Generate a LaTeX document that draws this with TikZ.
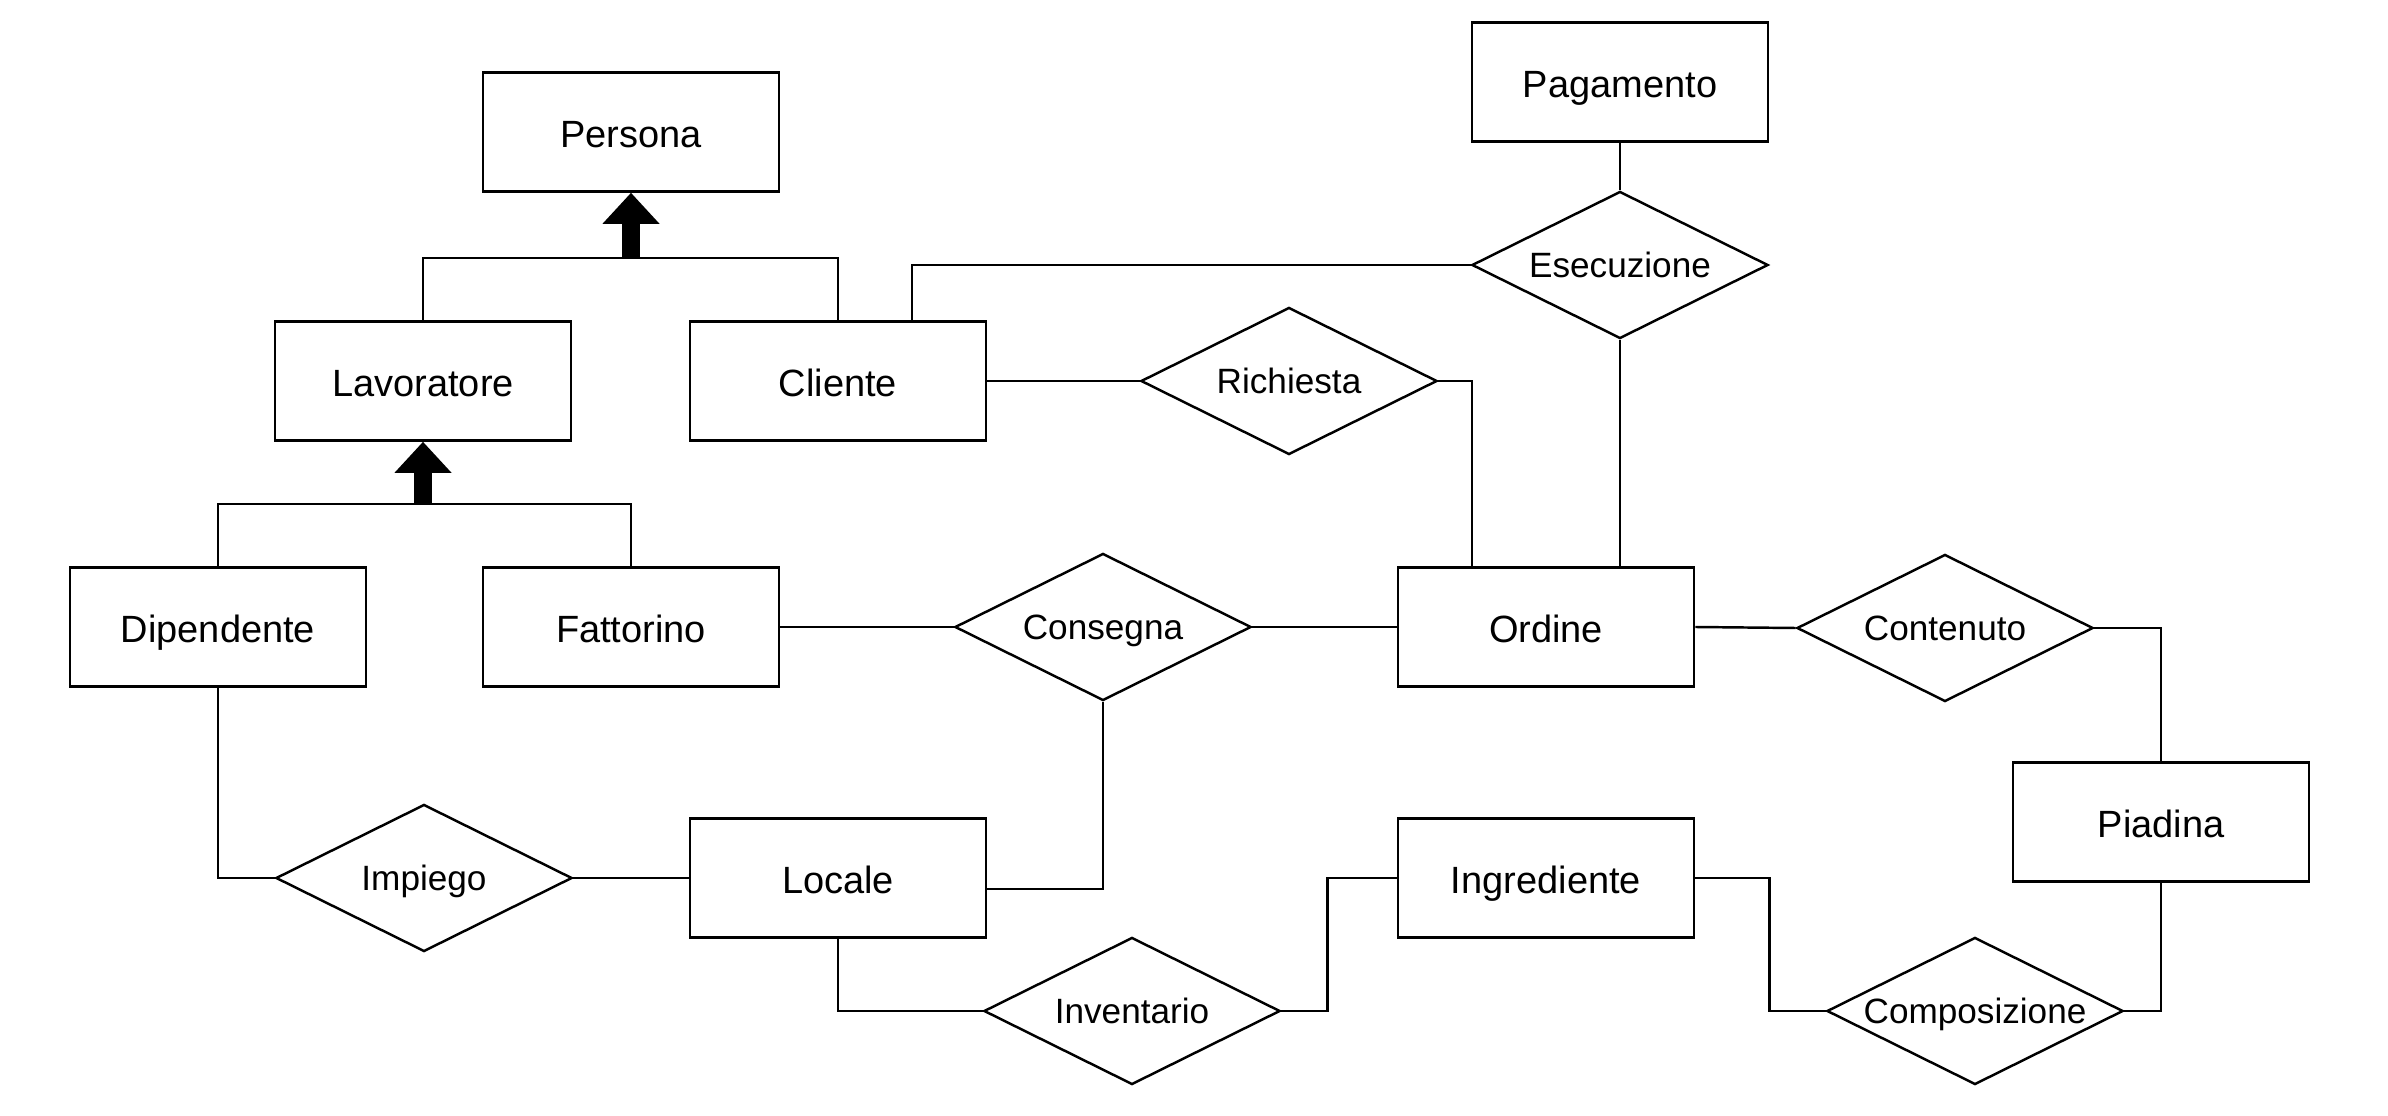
\documentclass[tikz,border=0pt]{standalone}
\usepackage{fontspec}
\setmainfont{Liberation Sans}
\usepackage{tikz}
\usetikzlibrary{arrows.meta,shapes.geometric}
\tikzset{
  entity/.style = {rectangle, draw=black, align=center, inner sep=0pt,
    minimum width=2.96cm, minimum height=1.19cm, text height=0.36cm, text depth=0.05cm,
    font=\fontsize{10.8}{13}\selectfont},
  relation/.style = {diamond, aspect=2, draw=black, align=center, inner sep=0pt,
    minimum width=2.96cm, minimum height=1.47cm, text height=0.30cm, text depth=0.05cm,
    font=\fontsize{10}{12}\selectfont},% relazione
  isa/.style = {line width=0.18cm, -{Triangle[width=0.55cm,length=0.31cm]}},
}

\begin{document}
\begin{tikzpicture}[x=0.01cm,y=-0.01cm,line width=0.7pt]
\useasboundingbox (0,0) rectangle (2388,1116);
% entita
\node [entity] (persona) at (631,132) {Persona};
\node [entity] (lavoratore) at (423,381) {Lavoratore};
\node [entity] (cliente) at (838,381) {Cliente};
\node [entity] (dipendente) at (218,627) {Dipendente};
\node [entity] (fattorino) at (631,627) {Fattorino};
\node [entity] (ordine) at (1546,627) {Ordine};
\node [entity] (pagamento) at (1620,82) {Pagamento};
\node [entity] (piadina) at (2161,822) {Piadina};
\node [entity] (locale) at (838,878) {Locale};
\node [entity] (ingrediente) at (1546,878) {Ingrediente};
% relazioni
\node [relation] (esecuzione) at (1620,265) {Esecuzione};
\node [relation] (richiesta) at (1289,381) {Richiesta};
\node [relation] (consegna) at (1103,627) {Consegna};
\node [relation] (contenuto) at (1945,628) {Contenuto};
\node [relation] (impiego) at (424,878) {Impiego};
\node [relation] (inventario) at (1132,1011) {Inventario};
\node [relation] (composizione) at (1975,1011) {Composizione};
% generalizzazioni
\coordinate (isa1) at (631,258);
\coordinate (isa2) at (423,504);
\draw (lavoratore.north) |- (isa1) -| (cliente.north);
\draw [isa] (isa1) -- (persona.south);
\draw (dipendente.north) |- (isa2) -| (fattorino.north);
\draw [isa] (isa2) -- (lavoratore.south);
% collegamenti
\draw ([xshift=0.74cm]cliente.north) |- (esecuzione.west);
\draw (pagamento.south) -- (esecuzione.north);
\draw (esecuzione.south) -- (esecuzione.south |- ordine.north);
\draw (cliente.east) -- (richiesta.west);
\draw (richiesta.east) -| ([xshift=-0.74cm]ordine.north);
\draw (fattorino.east) -- (consegna.west);
\draw (consegna.east) -- (ordine.west);
\draw (consegna.south) |- ([yshift=-0.11cm]locale.east);
\draw (ordine.east) -- (contenuto.west);
\draw (contenuto.east) -| (piadina.north);
\draw (dipendente.south) |- (impiego.west);
\draw (impiego.east) -- (locale.west);
\draw (locale.south) |- (inventario.west);
\draw (inventario.east) -- ++(46,0) |- (ingrediente.west);
\draw (ingrediente.east) -- ++(74,0) |- (composizione.west);
\draw (composizione.east) -| (piadina.south);
\end{tikzpicture}
\end{document}
